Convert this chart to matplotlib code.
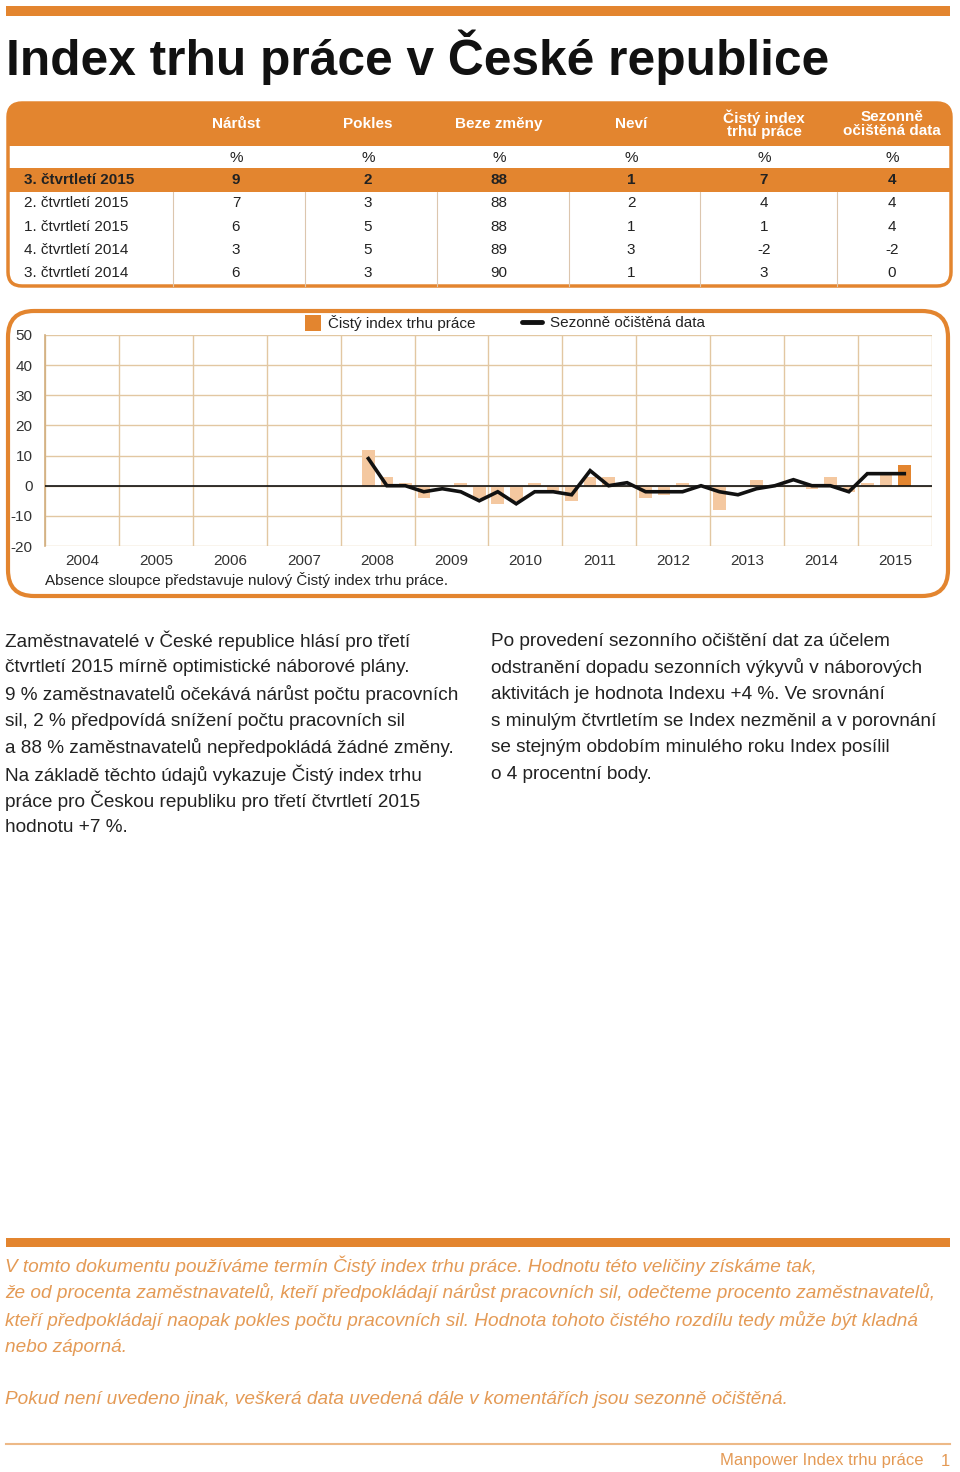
import matplotlib
matplotlib.use("Agg")
import matplotlib.pyplot as plt
from matplotlib.patches import FancyBboxPatch, Rectangle
import numpy as np

plt.rcParams['font.family'] = ['Liberation Sans', 'DejaVu Sans']
plt.rcParams['axes.unicode_minus'] = False

ORANGE = '#E3852F'
LIGHT = '#F4C8A0'
GRID = '#E2C7A2'
TXT = '#222222'

# --- table data ---
col_heads = ['Nárůst', 'Pokles', 'Beze změny', 'Neví', 'Čistý index\ntrhu práce', 'Sezonně\nočištěná data']
row_labels = ['3. čtvrtletí 2015', '2. čtvrtletí 2015', '1. čtvrtletí 2015', '4. čtvrtletí 2014', '3. čtvrtletí 2014']
narust = [9, 7, 6, 3, 6]
pokles = [2, 3, 5, 5, 3]
beze_zmeny = [88, 88, 88, 89, 90]
nevi = [1, 2, 1, 3, 1]
cisty_index = [7, 4, 1, -2, 3]
sezonne = [4, 4, 4, -2, 0]

# --- chart data: 2008 Q2 .. 2015 Q3 ---
years = list(range(2004, 2016))
quarters = [(2008, 2), (2008, 3), (2008, 4)] + \
    [(y, q) for y in range(2009, 2015) for q in (1, 2, 3, 4)] + \
    [(2015, 1), (2015, 2), (2015, 3)]
net_index = [12, 3, 1,
             -4, 0, 1, -4,
             -6, -5, 1, -2,
             -5, 3, 3, 0,
             -4, -3, 1, 0,
             -8, 0, 2, 0,
             0, -1, 3, -2,
             1, 4, 7]
seas_adj = [9, 0, 0,
            -2, -1, -2, -5,
            -2, -6, -2, -2,
            -3, 5, 0, 1,
            -2, -2, -2, 0,
            -2, -3, -1, 0,
            2, 0, 0, -2,
            4, 4, 4]

left_text = [
    'Zaměstnavatelé v České republice hlásí pro třetí',
    'čtvrtletí 2015 mírně optimistické náborové plány.',
    '9 % zaměstnavatelů očekává nárůst počtu pracovních',
    'sil, 2 % předpovídá snížení počtu pracovních sil',
    'a 88 % zaměstnavatelů nepředpokládá žádné změny.',
    'Na základě těchto údajů vykazuje Čistý index trhu',
    'práce pro Českou republiku pro třetí čtvrtletí 2015',
    'hodnotu +7 %.',
]
right_text = [
    'Po provedení sezonního očištění dat za účelem',
    'odstranění dopadu sezonních výkyvů v náborových',
    'aktivitách je hodnota Indexu +4 %. Ve srovnání',
    's minulým čtvrtletím se Index nezměnil a v porovnání',
    'se stejným obdobím minulého roku Index posílil',
    'o 4 procentní body.',
]
note_text = [
    'V tomto dokumentu používáme termín Čistý index trhu práce. Hodnotu této veličiny získáme tak,',
    'že od procenta zaměstnavatelů, kteří předpokládají nárůst pracovních sil, odečteme procento zaměstnavatelů,',
    'kteří předpokládají naopak pokles počtu pracovních sil. Hodnota tohoto čistého rozdílu tedy může být kladná',
    'nebo záporná.',
]

W, H = 960, 1472
fig = plt.figure(figsize=(W / 100, H / 100), dpi=100)
cv = fig.add_axes([0, 0, 1, 1])
cv.set_xlim(0, W)
cv.set_ylim(H, 0)
cv.axis('off')

# top bar + title
cv.add_patch(Rectangle((6, 6), 944, 10, color=ORANGE, lw=0))
cv.text(6, 57, 'Index trhu práce v České republice', fontsize=35.7, fontweight='bold',
        color='#111111', va='center', ha='left')

# --- table ---
tx0, tx1, ty0, ty1 = 8, 951, 103, 286
cv.add_patch(FancyBboxPatch((tx0, ty0), tx1 - tx0, 43, boxstyle='round,pad=0,rounding_size=14',
                            fc=ORANGE, ec='none'))
cv.add_patch(Rectangle((tx0, ty0 + 25), tx1 - tx0, 18, fc=ORANGE, ec='none'))
cv.add_patch(Rectangle((tx0, 168), tx1 - tx0, 24, fc=ORANGE, ec='none'))
cv.add_patch(FancyBboxPatch((tx0, ty0), tx1 - tx0, ty1 - ty0, boxstyle='round,pad=0,rounding_size=14',
                            fc='none', ec=ORANGE, lw=2.5))
col_x = [236, 368, 499, 631, 764, 892]
sep_x = [173, 305, 437, 569, 700, 837]
for sx in sep_x:
    cv.plot([sx, sx], [192, ty1], color='#DCC6AE', lw=0.8)
for cx, head in zip(col_x, col_heads):
    cv.text(cx, 124, head, ha='center', va='center', fontsize=11, fontweight='bold',
            color='white', linespacing=0.95)
    cv.text(cx, 158, '%', ha='center', va='center', fontsize=11, color=TXT)
row_y = [180, 203, 227, 250, 273]
cols = [narust, pokles, beze_zmeny, nevi, cisty_index, sezonne]
for i, (ry, lab) in enumerate(zip(row_y, row_labels)):
    fw = 'bold' if i == 0 else 'normal'
    cv.text(24, ry, lab, ha='left', va='center', fontsize=11, fontweight=fw, color=TXT)
    for cx, col in zip(col_x, cols):
        cv.text(cx, ry, str(col[i]), ha='center', va='center', fontsize=11, fontweight=fw, color=TXT)

# --- chart panel ---
cv.add_patch(FancyBboxPatch((8, 311), 940, 285, boxstyle='round,pad=0,rounding_size=26',
                            fc='none', ec=ORANGE, lw=3))
cv.add_patch(Rectangle((305, 315), 16, 16, fc=ORANGE, ec='none'))
cv.text(328, 323, 'Čistý index trhu práce', fontsize=11, va='center', color=TXT)
cv.plot([522, 542], [322, 322], color='#111111', lw=3.5, solid_capstyle='round')
cv.text(550, 323, 'Sezonně očištěná data', fontsize=11, va='center', color=TXT)
cv.text(45, 580, 'Absence sloupce představuje nulový Čistý index trhu práce.', fontsize=11,
        va='center', color=TXT)

ax = fig.add_axes([45 / W, 1 - 546 / H, (932 - 45) / W, (546 - 335) / H])
ax.patch.set_alpha(0)
xq = [y + (q - 0.5) / 4 for y, q in quarters]
colors = [LIGHT] * (len(xq) - 1) + [ORANGE]
ax.bar(xq, net_index, width=0.17, color=colors, zorder=2)
ax.plot(xq, seas_adj, color='#111111', lw=2.6, zorder=4, solid_joinstyle='miter')
ax.axhline(0, color='#111111', lw=1.2, zorder=3)
ax.set_xlim(2004, 2016)
ax.set_ylim(-20, 50)
ax.set_yticks(range(-20, 51, 10))
ax.set_xticks([y + 0.5 for y in years])
ax.set_xticklabels([str(y) for y in years])
ax.set_xticks(range(2004, 2017), minor=True)
ax.grid(True, which='minor', axis='x', color=GRID, lw=1, zorder=0)
ax.grid(True, which='major', axis='y', color=GRID, lw=1, zorder=0)
ax.tick_params(which='both', length=0, labelsize=11, labelcolor='#333333')
ax.tick_params(axis='x', pad=6)
ax.tick_params(axis='y', pad=9)
for s in ['top', 'right', 'bottom']:
    ax.spines[s].set_visible(False)
ax.spines['left'].set_color('#D2AE7E')
ax.spines['left'].set_linewidth(1.2)

# --- body text ---
for i, line in enumerate(left_text):
    cv.text(5, 641 + i * 26.7, line, fontsize=13.7, va='center', color=TXT)
for i, line in enumerate(right_text):
    cv.text(491, 641 + i * 26.7, line, fontsize=13.7, va='center', color=TXT)

# --- bottom note ---
cv.add_patch(Rectangle((6, 1238), 944, 9, color=ORANGE, lw=0))
NOTE = '#E49A55'
for i, line in enumerate(note_text):
    cv.text(5, 1266 + i * 27, line, fontsize=13.7, style='italic', va='center', color=NOTE)
cv.text(5, 1400, 'Pokud není uvedeno jinak, veškerá data uvedená dále v komentářích jsou sezonně očištěná.',
        fontsize=13.7, style='italic', va='center', color=NOTE)

# footer
cv.plot([6, 950], [1444, 1444], color='#EDB987', lw=1.5)
cv.text(923, 1461, 'Manpower Index trhu práce', fontsize=12, ha='right', va='center', color=NOTE)
cv.text(945, 1461, '1', fontsize=12, ha='center', va='center', color=NOTE)

fig.savefig('out.png', dpi=100)
